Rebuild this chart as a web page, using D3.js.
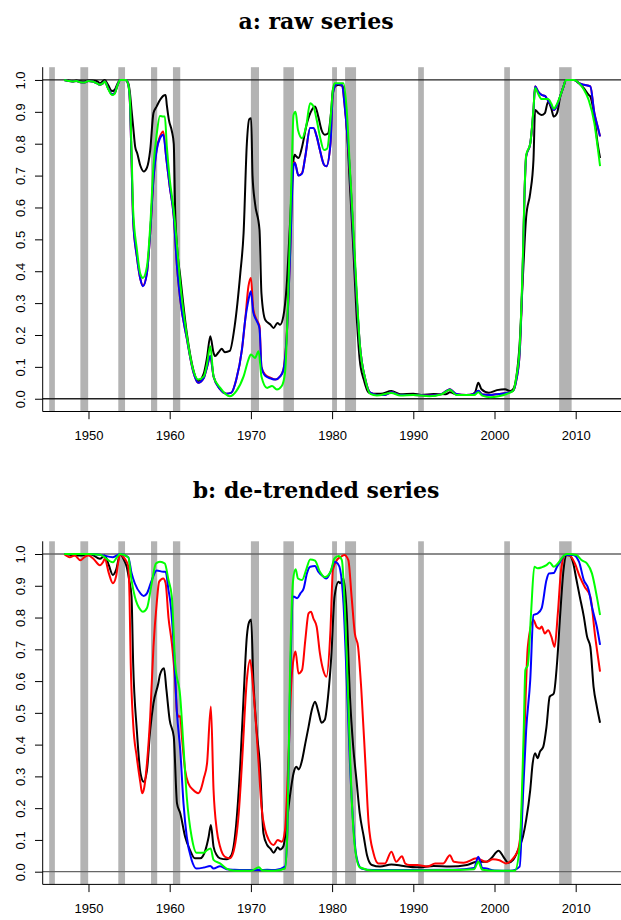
<!DOCTYPE html>
<html>
<head>
<meta charset="utf-8">
<script src="https://cdn.jsdelivr.net/npm/d3@7"></script>
<style>
  body { margin: 0; background: #fff; }
  svg { display: block; }
  .tick text { font-family: "Liberation Sans", Arial, sans-serif; font-size: 13px; fill: #000; }
  .title { font-family: "DejaVu Serif", serif; font-weight: bold; font-size: 22px; }
</style>
</head>
<body>
<div id="chart"></div>
<script>
// recession bands, decimal years
var recessions = [[1945.16, 1945.86], [1949.0, 1949.96], [1953.67, 1954.5], [1957.7, 1958.46],
  [1960.4, 1961.3], [1970.0, 1971.0], [1974.0, 1975.3], [1980.0, 1980.6], [1981.6, 1982.95],
  [1990.6, 1991.3], [2001.2, 2001.9], [2007.96, 2009.5]];

var xTicks = [1950, 1960, 1970, 1980, 1990, 2000, 2010];
var yTicks = [0, 0.1, 0.2, 0.3, 0.4, 0.5, 0.6, 0.7, 0.8, 0.9, 1.0];

// panel a: raw series, [year, value]
var aBlack = [[1947.0,1.0],[1947.5,0.998],[1948.0,0.996],[1948.5,0.998],[1949.0,0.996],[1949.5,0.995],[1950.0,0.998],
  [1950.5,0.998],[1951.0,0.997],[1951.4,0.99],[1951.8,0.997],[1952.0,1.0],[1952.4,0.985],[1952.9,0.965],[1953.2,0.968],
  [1953.6,0.99],[1953.9,1.0],[1954.5,1.0],[1954.9,0.99],[1955.1,0.96],[1955.3,0.906],[1955.5,0.854],[1955.75,0.79],
  [1956.0,0.77],[1956.4,0.73],[1956.8,0.713],[1957.2,0.725],[1957.6,0.78],[1958.0,0.896],[1958.4,0.917],[1958.8,0.937],
  [1959.2,0.95],[1959.5,0.953],[1959.65,0.92],[1959.9,0.875],[1960.26,0.84],[1960.5,0.80],[1960.67,0.593],[1960.9,0.478],
  [1961.3,0.384],[1962.1,0.207],[1962.9,0.092],[1963.5,0.055],[1964.2,0.08],[1964.6,0.13],[1965.0,0.196],[1965.4,0.144],
  [1965.6,0.134],[1966.0,0.145],[1966.4,0.157],[1966.8,0.146],[1967.4,0.15],[1968.0,0.228],[1968.7,0.395],[1969.1,0.52],
  [1969.5,0.80],[1969.8,0.877],[1970.03,0.88],[1970.2,0.70],[1970.5,0.614],[1971.06,0.53],[1971.3,0.33],[1971.76,0.248],
  [1972.4,0.233],[1972.8,0.222],[1973.27,0.238],[1973.6,0.232],[1974.0,0.259],[1974.4,0.353],[1974.8,0.54],[1975.25,0.75],
  [1975.4,0.765],[1975.6,0.76],[1975.86,0.755],[1976.3,0.79],[1976.9,0.864],[1977.5,0.906],[1977.9,0.917],[1978.3,0.885],
  [1978.7,0.843],[1979.1,0.828],[1979.5,0.832],[1979.9,0.906],[1980.1,0.969],[1980.3,0.979],[1980.8,0.984],[1981.3,0.981],
  [1981.8,0.854],[1982.2,0.666],[1982.6,0.478],[1983.0,0.27],[1983.4,0.123],[1983.9,0.06],[1984.5,0.019],[1985.1,0.016],
  [1986.0,0.016],[1987.3,0.024],[1988.4,0.014],[1990.0,0.016],[1991.0,0.012],[1992.5,0.015],[1994.0,0.014],[1994.5,0.02],
  [1995.5,0.012],[1997.0,0.012],[1997.6,0.02],[1998.0,0.05],[1998.4,0.03],[1999.3,0.019],[2000.3,0.027],[2001.3,0.03],
  [2001.9,0.024],[2002.3,0.03],[2002.7,0.07],[2003.1,0.175],[2003.5,0.384],[2003.9,0.57],[2004.4,0.645],[2004.8,0.75],
  [2005.0,0.906],[2005.4,0.896],[2005.8,0.89],[2006.2,0.896],[2006.6,0.932],[2007.0,0.91],[2007.3,0.885],[2007.7,0.896],
  [2008.1,0.948],[2008.5,0.979],[2008.8,1.0],[2009.8,1.0],[2010.4,0.99],[2011.0,0.974],[2011.6,0.953],[2011.8,0.948],
  [2012.3,0.885],[2012.7,0.80],[2013.0,0.755]];

var aRed = [[1947.0,1.0],[1947.5,0.997],[1948.0,0.995],[1948.5,0.997],[1949.0,0.993],[1949.5,0.992],[1950.0,0.997],
  [1950.5,0.995],[1951.0,0.99],[1951.4,0.985],[1951.8,0.99],[1952.0,0.995],[1952.4,0.975],[1952.9,0.955],[1953.2,0.958],
  [1953.6,0.985],[1953.9,1.0],[1954.6,1.0],[1954.9,0.985],[1955.1,0.93],[1955.3,0.75],[1955.5,0.56],[1955.95,0.447],
  [1956.4,0.374],[1956.7,0.355],[1957.2,0.395],[1957.6,0.52],[1958.0,0.69],[1958.4,0.785],[1958.8,0.822],[1959.2,0.838],
  [1959.6,0.75],[1960.0,0.666],[1960.5,0.572],[1960.9,0.415],[1961.3,0.311],[1962.1,0.19],[1962.9,0.085],[1963.5,0.05],
  [1964.2,0.065],[1964.6,0.10],[1965.0,0.134],[1965.4,0.07],[1966.2,0.03],[1967.0,0.016],[1967.6,0.019],[1968.2,0.06],
  [1968.9,0.155],[1969.3,0.248],[1969.7,0.353],[1970.0,0.379],[1970.3,0.28],[1970.7,0.248],[1971.06,0.228],[1971.3,0.10],
  [1971.76,0.076],[1972.4,0.066],[1973.0,0.06],[1973.6,0.07],[1974.0,0.092],[1974.4,0.196],[1974.8,0.436],[1975.25,0.74],
  [1975.4,0.742],[1975.86,0.70],[1976.3,0.708],[1976.7,0.76],[1977.3,0.849],[1977.7,0.849],[1978.1,0.823],[1978.5,0.78],
  [1979.0,0.734],[1979.3,0.729],[1979.8,0.80],[1980.1,0.958],[1980.6,0.987],[1981.2,0.984],[1981.6,0.906],[1982.2,0.708],
  [1982.6,0.52],[1983.0,0.33],[1983.4,0.175],[1984.1,0.06],[1984.7,0.019],[1985.5,0.012],[1986.5,0.012],[1987.3,0.02],
  [1988.4,0.012],[1990.0,0.012],[1992.0,0.01],[1993.5,0.015],[1994.5,0.03],[1995.3,0.015],[1996.5,0.012],[1997.5,0.015],
  [1998.0,0.025],[1998.5,0.013],[1999.5,0.012],[2000.5,0.015],[2001.5,0.018],[2002.3,0.025],[2002.7,0.06],[2003.1,0.144],
  [2003.5,0.436],[2003.7,0.645],[2003.9,0.76],[2004.4,0.80],[2004.8,0.906],[2005.0,0.98],[2005.4,0.963],[2005.8,0.953],
  [2006.2,0.95],[2006.6,0.935],[2007.0,0.92],[2007.3,0.906],[2007.7,0.92],[2008.1,0.95],[2008.5,0.98],[2008.8,1.0],
  [2009.8,1.0],[2010.4,0.99],[2011.0,0.985],[2011.8,0.98],[2012.3,0.896],[2012.7,0.854],[2013.0,0.823]];

var aBlue = [[1947.0,1.0],[1947.5,0.997],[1948.0,0.995],[1948.5,0.997],[1949.0,0.993],[1949.5,0.992],[1950.0,0.997],
  [1950.5,0.995],[1951.0,0.99],[1951.4,0.985],[1951.8,0.99],[1952.0,0.995],[1952.4,0.975],[1952.9,0.955],[1953.2,0.958],
  [1953.6,0.985],[1953.9,1.0],[1954.6,1.0],[1954.9,0.985],[1955.1,0.93],[1955.3,0.75],[1955.5,0.56],[1955.95,0.447],
  [1956.4,0.374],[1956.7,0.353],[1957.2,0.395],[1957.6,0.52],[1958.0,0.687],[1958.4,0.78],[1958.8,0.817],[1959.2,0.828],
  [1959.6,0.75],[1960.0,0.666],[1960.5,0.572],[1960.9,0.415],[1961.3,0.311],[1962.1,0.19],[1962.9,0.085],[1963.5,0.05],
  [1964.2,0.065],[1964.6,0.10],[1965.0,0.134],[1965.4,0.07],[1966.2,0.03],[1967.0,0.016],[1967.6,0.019],[1968.2,0.06],
  [1968.9,0.155],[1969.3,0.248],[1969.7,0.31],[1970.0,0.337],[1970.3,0.27],[1970.7,0.245],[1971.06,0.22],[1971.3,0.10],
  [1971.76,0.072],[1972.4,0.064],[1973.0,0.06],[1973.6,0.07],[1974.0,0.09],[1974.4,0.19],[1974.8,0.43],[1975.25,0.73],
  [1975.4,0.74],[1975.86,0.70],[1976.3,0.706],[1976.7,0.76],[1977.3,0.849],[1977.7,0.849],[1978.1,0.823],[1978.5,0.78],
  [1979.0,0.734],[1979.3,0.729],[1979.8,0.80],[1980.1,0.958],[1980.6,0.987],[1981.2,0.984],[1981.6,0.906],[1982.2,0.708],
  [1982.6,0.52],[1983.0,0.33],[1983.4,0.175],[1984.1,0.06],[1984.7,0.019],[1985.5,0.012],[1986.5,0.012],[1987.3,0.02],
  [1988.4,0.012],[1990.0,0.012],[1992.0,0.01],[1993.5,0.015],[1994.5,0.03],[1995.3,0.015],[1996.5,0.012],[1997.5,0.015],
  [1998.0,0.025],[1998.5,0.013],[1999.5,0.012],[2000.5,0.015],[2001.5,0.018],[2002.3,0.025],[2002.7,0.06],[2003.1,0.144],
  [2003.5,0.436],[2003.7,0.645],[2003.9,0.76],[2004.4,0.80],[2004.8,0.906],[2005.0,0.98],[2005.4,0.963],[2005.8,0.953],
  [2006.2,0.95],[2006.6,0.935],[2007.0,0.92],[2007.3,0.906],[2007.7,0.92],[2008.1,0.95],[2008.5,0.98],[2008.8,1.0],
  [2009.8,1.0],[2010.4,0.99],[2011.0,0.985],[2011.8,0.98],[2012.3,0.896],[2012.7,0.854],[2013.0,0.823]];

var aGreen = [[1947.0,1.0],[1947.5,0.997],[1948.0,0.995],[1948.5,0.997],[1949.0,0.993],[1949.5,0.992],[1950.0,0.997],
  [1950.5,0.995],[1951.0,0.99],[1951.4,0.985],[1951.8,0.99],[1952.0,0.995],[1952.4,0.973],[1952.9,0.953],[1953.2,0.956],
  [1953.6,0.985],[1953.9,1.0],[1954.6,1.0],[1954.9,0.985],[1955.1,0.94],[1955.3,0.78],[1955.5,0.59],[1955.95,0.47],
  [1956.4,0.39],[1956.7,0.379],[1957.2,0.415],[1957.6,0.54],[1958.0,0.73],[1958.4,0.83],[1958.8,0.887],[1959.2,0.885],
  [1959.4,0.885],[1959.65,0.79],[1960.0,0.69],[1960.5,0.59],[1960.9,0.48],[1961.3,0.363],[1962.1,0.2],[1962.9,0.09],
  [1963.5,0.06],[1964.2,0.07],[1964.6,0.11],[1965.0,0.165],[1965.4,0.07],[1966.2,0.035],[1967.4,0.008],[1968.2,0.024],
  [1969.1,0.07],[1969.7,0.123],[1970.0,0.139],[1970.5,0.128],[1970.95,0.149],[1971.3,0.07],[1972.0,0.034],[1972.6,0.04],
  [1973.2,0.029],[1973.8,0.04],[1974.2,0.081],[1974.6,0.33],[1975.0,0.697],[1975.25,0.89],[1975.5,0.90],[1975.8,0.843],
  [1976.3,0.817],[1976.8,0.854],[1977.3,0.927],[1977.7,0.917],[1978.1,0.875],[1978.5,0.823],[1979.0,0.78],[1979.4,0.785],
  [1979.8,0.875],[1980.1,0.969],[1980.3,0.99],[1981.4,0.99],[1981.8,0.906],[1982.2,0.72],[1982.6,0.54],[1983.0,0.35],
  [1983.4,0.175],[1984.1,0.06],[1984.7,0.015],[1985.5,0.01],[1987.3,0.018],[1988.4,0.01],[1990.0,0.012],[1992.0,0.008],
  [1993.5,0.014],[1994.5,0.028],[1995.3,0.012],[1997.5,0.012],[1998.0,0.02],[1998.5,0.01],[1999.5,0.005],[2000.5,0.008],
  [2001.5,0.015],[2002.3,0.025],[2002.7,0.07],[2003.1,0.16],[2003.5,0.45],[2003.7,0.65],[2003.9,0.765],[2004.4,0.80],
  [2004.8,0.91],[2005.0,0.975],[2005.4,0.955],[2005.8,0.94],[2006.2,0.94],[2006.6,0.94],[2007.0,0.925],[2007.3,0.91],
  [2007.7,0.925],[2008.1,0.95],[2008.5,0.98],[2008.8,1.0],[2009.8,1.0],[2010.4,0.99],[2011.0,0.97],[2011.6,0.937],
  [2012.3,0.864],[2012.7,0.79],[2013.0,0.73]];

// panel b: de-trended series
var bBlack = [[1947.0,1.0],[1947.7,0.998],[1949.0,0.995],[1950.0,1.0],[1950.5,0.997],[1951.4,0.985],[1952.0,0.995],
  [1952.5,0.965],[1953.0,0.934],[1953.4,0.95],[1953.9,1.0],[1954.3,0.985],[1954.7,0.96],[1955.0,0.92],[1955.3,0.866],
  [1955.5,0.656],[1955.95,0.446],[1956.4,0.31],[1956.8,0.283],[1957.2,0.32],[1957.6,0.446],[1958.0,0.53],[1958.6,0.593],
  [1958.8,0.62],[1959.3,0.64],[1959.6,0.572],[1960.0,0.477],[1960.5,0.425],[1960.9,0.215],[1961.3,0.184],[1961.9,0.11],
  [1962.5,0.068],[1963.1,0.042],[1963.75,0.042],[1964.4,0.068],[1964.8,0.11],[1965.07,0.147],[1965.4,0.079],[1965.8,0.052],
  [1966.2,0.042],[1967.0,0.039],[1967.6,0.052],[1968.2,0.152],[1968.7,0.341],[1969.1,0.55],[1969.5,0.74],[1969.8,0.787],
  [1970.03,0.794],[1970.3,0.603],[1970.7,0.446],[1971.1,0.341],[1971.55,0.12],[1972.0,0.084],[1972.4,0.073],[1972.8,0.06],
  [1973.3,0.077],[1973.6,0.07],[1974.0,0.08],[1974.4,0.152],[1974.8,0.236],[1975.25,0.31],[1975.6,0.33],[1975.9,0.322],
  [1976.3,0.351],[1976.7,0.404],[1977.1,0.456],[1977.5,0.509],[1977.9,0.535],[1978.3,0.504],[1978.7,0.469],[1979.1,0.478],
  [1979.5,0.551],[1979.9,0.677],[1980.3,0.866],[1980.8,0.913],[1981.0,0.908],[1981.4,0.923],[1981.8,0.813],[1982.2,0.551],
  [1982.6,0.393],[1983.0,0.289],[1983.4,0.184],[1983.9,0.11],[1984.3,0.052],[1984.9,0.021],[1985.9,0.016],[1987.3,0.023],
  [1988.8,0.018],[1990.4,0.014],[1991.0,0.014],[1992.5,0.018],[1994.5,0.016],[1996.6,0.021],[1997.8,0.031],[1999.0,0.031],
  [1999.6,0.042],[2000.5,0.066],[2001.1,0.047],[2001.7,0.028],[2002.3,0.037],[2002.9,0.068],[2003.5,0.11],[2003.9,0.163],
  [2004.4,0.257],[2004.7,0.341],[2005.0,0.373],[2005.3,0.357],[2005.6,0.378],[2006.0,0.393],[2006.4,0.456],[2006.8,0.551],
  [2007.3,0.561],[2007.7,0.656],[2008.1,0.813],[2008.5,0.95],[2008.9,0.997],[2009.3,0.995],[2009.7,0.97],[2010.1,0.918],
  [2010.5,0.866],[2011.0,0.803],[2011.4,0.74],[2011.8,0.708],[2012.2,0.582],[2012.6,0.52],[2013.0,0.469]];

var bRed = [[1947.0,1.0],[1947.7,0.99],[1948.3,0.995],[1949.0,0.98],[1949.5,0.99],[1950.0,0.995],[1950.6,0.985],
  [1951.4,0.965],[1951.8,0.975],[1952.0,0.985],[1952.5,0.94],[1953.0,0.908],[1953.4,0.93],[1953.7,0.98],[1953.9,1.0],
  [1954.3,0.99],[1954.7,0.975],[1954.9,0.96],[1955.05,0.866],[1955.2,0.656],[1955.5,0.467],[1955.95,0.36],[1956.4,0.278],
  [1956.6,0.247],[1956.8,0.257],[1957.2,0.341],[1957.6,0.488],[1958.0,0.708],[1958.4,0.845],[1958.7,0.913],[1959.2,0.923],
  [1959.5,0.908],[1959.85,0.80],[1960.26,0.72],[1960.67,0.60],[1960.9,0.50],[1961.1,0.488],[1961.3,0.49],[1961.5,0.425],
  [1961.9,0.32],[1962.3,0.278],[1962.9,0.257],[1963.5,0.247],[1963.8,0.257],[1964.2,0.294],[1964.6,0.341],[1965.07,0.52],
  [1965.4,0.257],[1965.8,0.131],[1966.2,0.079],[1966.8,0.047],[1967.4,0.042],[1967.8,0.058],[1968.5,0.184],[1968.9,0.341],
  [1969.5,0.603],[1969.9,0.666],[1970.3,0.572],[1970.95,0.341],[1971.3,0.205],[1971.76,0.131],[1972.2,0.10],[1972.8,0.084],
  [1973.3,0.10],[1973.8,0.094],[1974.2,0.131],[1974.6,0.341],[1975.0,0.603],[1975.3,0.677],[1975.5,0.693],[1975.86,0.624],
  [1976.3,0.635],[1976.7,0.729],[1977.1,0.813],[1977.4,0.818],[1977.7,0.797],[1978.1,0.771],[1978.5,0.687],[1978.9,0.635],
  [1979.3,0.614],[1979.8,0.761],[1980.1,0.95],[1980.6,0.981],[1981.0,0.99],[1981.5,0.997],[1982.0,0.981],[1982.4,0.866],
  [1982.8,0.75],[1983.2,0.708],[1983.6,0.572],[1984.1,0.341],[1984.5,0.152],[1985.1,0.058],[1985.7,0.026],[1986.5,0.026],
  [1987.3,0.063],[1987.9,0.031],[1988.6,0.049],[1989.0,0.026],[1989.5,0.021],[1990.5,0.021],[1991.7,0.016],[1992.7,0.026],
  [1993.7,0.026],[1994.5,0.052],[1995.0,0.031],[1996.2,0.028],[1997.8,0.042],[1999.0,0.031],[1999.8,0.039],[2000.6,0.036],
  [2001.4,0.026],[2002.3,0.042],[2002.9,0.068],[2003.3,0.152],[2003.7,0.446],[2004.1,0.708],[2004.8,0.792],[2005.2,0.77],
  [2005.6,0.765],[2005.8,0.772],[2006.2,0.75],[2006.6,0.76],[2007.0,0.74],[2007.4,0.708],[2007.8,0.813],[2008.2,0.95],
  [2008.7,0.997],[2009.3,0.995],[2009.9,0.97],[2010.5,0.929],[2011.1,0.897],[2011.8,0.866],[2012.4,0.74],[2013.0,0.63]];

var bBlue = [[1947.0,1.0],[1950.0,1.0],[1951.4,0.998],[1953.0,0.99],[1953.9,1.0],[1954.9,0.99],[1955.3,0.94],
  [1955.7,0.908],[1956.4,0.876],[1956.8,0.868],[1957.2,0.876],[1957.8,0.918],[1958.4,0.948],[1959.2,0.944],[1959.5,0.944],
  [1959.85,0.887],[1960.1,0.845],[1960.5,0.708],[1960.9,0.498],[1961.3,0.383],[1961.7,0.215],[1962.1,0.11],[1962.7,0.037],
  [1963.3,0.01],[1964.2,0.013],[1965.0,0.018],[1965.4,0.01],[1966.2,0.017],[1967.0,0.008],[1968.0,0.006],[1969.0,0.005],
  [1970.0,0.005],[1971.0,0.005],[1972.0,0.006],[1973.0,0.005],[1974.2,0.016],[1974.5,0.131],[1974.8,0.551],[1975.25,0.866],
  [1975.7,0.861],[1976.1,0.876],[1976.5,0.892],[1976.9,0.939],[1977.3,0.96],[1977.9,0.962],[1978.3,0.944],[1978.9,0.929],
  [1979.3,0.923],[1979.9,0.95],[1980.3,0.976],[1980.7,0.97],[1981.0,0.95],[1981.4,0.845],[1981.8,0.603],[1982.2,0.341],
  [1982.6,0.152],[1983.0,0.047],[1983.6,0.01],[1985.0,0.005],[1990.0,0.005],[1995.0,0.006],[1997.5,0.012],[1998.0,0.047],
  [1998.5,0.012],[1999.0,0.01],[2000.0,0.004],[2002.0,0.003],[2003.1,0.016],[2003.5,0.236],[2003.9,0.446],[2004.4,0.603],
  [2004.8,0.808],[2005.3,0.813],[2005.8,0.829],[2006.4,0.918],[2006.7,0.939],[2007.3,0.94],[2007.7,0.96],[2008.1,0.976],
  [2008.7,0.997],[2009.7,0.997],[2010.4,0.976],[2011.0,0.918],[2011.6,0.887],[2012.0,0.834],[2012.6,0.771],[2013.0,0.714]];

var bGreen = [[1947.0,1.0],[1950.0,1.0],[1951.4,0.998],[1953.0,0.974],[1953.5,0.99],[1953.9,1.0],[1954.9,0.99],
  [1955.3,0.918],[1955.7,0.866],[1956.4,0.824],[1956.7,0.818],[1957.2,0.83],[1957.8,0.91],[1958.3,0.97],[1958.8,0.976],
  [1959.4,0.97],[1959.85,0.918],[1960.26,0.866],[1960.67,0.656],[1961.3,0.55],[1961.7,0.393],[1962.1,0.236],[1962.7,0.11],
  [1963.3,0.06],[1964.2,0.06],[1964.6,0.068],[1965.05,0.073],[1965.4,0.037],[1966.2,0.026],[1967.0,0.01],[1968.0,0.003],
  [1970.0,0.003],[1971.0,0.014],[1971.4,0.004],[1973.0,0.003],[1974.2,0.01],[1974.5,0.131],[1974.8,0.603],[1975.2,0.918],
  [1975.5,0.952],[1975.8,0.923],[1976.3,0.918],[1976.8,0.95],[1977.3,0.983],[1977.9,0.979],[1978.5,0.944],[1979.1,0.927],
  [1979.8,0.944],[1980.3,0.986],[1980.8,0.994],[1981.2,0.981],[1981.6,0.813],[1982.0,0.53],[1982.4,0.236],[1982.8,0.079],
  [1983.4,0.014],[1985.0,0.004],[1990.0,0.004],[1995.0,0.005],[1997.5,0.008],[1998.0,0.031],[1998.5,0.006],[2000.0,0.003],
  [2002.5,0.003],[2003.1,0.079],[2003.6,0.446],[2003.8,0.635],[2004.1,0.65],[2004.5,0.813],[2004.9,0.96],[2005.3,0.955],
  [2005.8,0.958],[2006.4,0.965],[2006.8,0.973],[2007.3,0.96],[2007.8,0.97],[2008.5,0.994],[2008.9,1.0],[2010.1,0.997],
  [2010.7,0.981],[2011.4,0.97],[2012.0,0.939],[2012.6,0.866],[2013.0,0.808]];

var seriesColors = ["#000000", "#ff0000", "#0000ff", "#00ff00"];

var width = 621, height = 920;
var left = 42.7, right = 621.5;

var svg = d3.select("#chart").append("svg")
  .attr("width", width)
  .attr("height", height);

// x scale shared by both panels (R style 4% padding)
var x = d3.scaleLinear().domain([1944.36, 2015.64]).range([left, right]);

drawPanel("a: raw series", 29, 67.2, 411.5, [aBlack, aRed, aBlue, aGreen], "#222");
drawPanel("b: de-trended series", 498, 541.3, 884.4, [bBlack, bRed, bBlue, bGreen], "#666");

function drawPanel(title, titleY, top, bottom, series, refColor) {
  var y = d3.scaleLinear().domain([-0.04, 1.04]).range([bottom, top]);
  var g = svg.append("g");

  // title
  g.append("text")
    .attr("class", "title")
    .attr("x", 316)
    .attr("y", titleY)
    .attr("text-anchor", "middle")
    .text(title);

  // recession shading
  g.selectAll("rect.rec")
    .data(recessions)
    .enter().append("rect")
    .attr("x", function(d) { return x(d[0]); })
    .attr("width", function(d) { return x(d[1]) - x(d[0]); })
    .attr("y", top)
    .attr("height", bottom - top)
    .attr("fill", "#b3b3b3");

  // reference lines at 0 and 1
  [0, 1].forEach(function(v) {
    g.append("line")
      .attr("x1", left).attr("x2", right)
      .attr("y1", y(v)).attr("y2", y(v))
      .attr("stroke", refColor)
      .attr("stroke-width", 1.3);
  });

  var line = d3.line()
    .x(function(d) { return x(d[0]); })
    .y(function(d) { return y(d[1]); })
    .curve(d3.curveMonotoneX);

  series.forEach(function(s, i) {
    g.append("path")
      .datum(s)
      .attr("fill", "none")
      .attr("stroke", seriesColors[i])
      .attr("stroke-width", 2)
      .attr("stroke-linejoin", "round")
      .attr("d", line);
  });

  // L shaped frame
  g.append("path")
    .attr("d", "M" + left + "," + top + "V" + bottom + "H" + right)
    .attr("fill", "none")
    .attr("stroke", "#000")
    .attr("stroke-width", 1);

  // x axis
  var xa = g.append("g")
    .attr("transform", "translate(0," + bottom + ")")
    .call(d3.axisBottom(x).tickValues(xTicks).tickSize(7.7).tickPadding(12).tickFormat(d3.format("d")));
  xa.select(".domain").remove();

  // y axis, labels turned vertical
  var ya = g.append("g")
    .attr("transform", "translate(" + left + ",0)")
    .call(d3.axisLeft(y).tickValues(yTicks).tickSize(7.7).tickFormat(d3.format(".1f")));
  ya.select(".domain").remove();
  ya.selectAll(".tick text")
    .attr("x", 0)
    .attr("dy", 0)
    .attr("text-anchor", "middle")
    .attr("transform", "translate(-17.7,0) rotate(-90)");
}
</script>
</body>
</html>
